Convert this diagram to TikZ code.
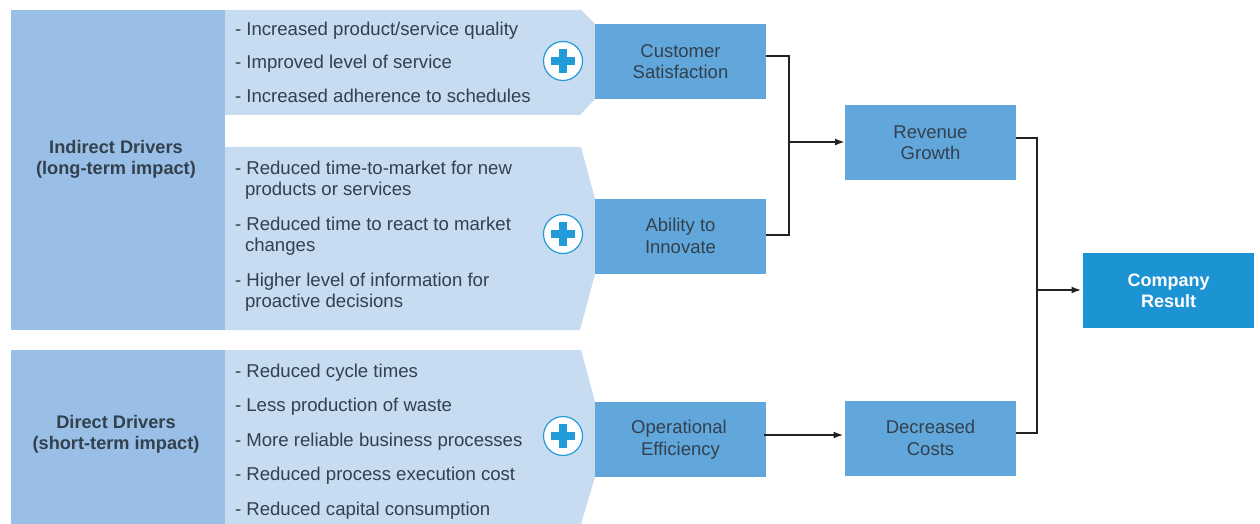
\documentclass[tikz,border=0pt]{standalone}
\usepackage{fontspec}
\usetikzlibrary{arrows.meta}
\setmainfont{Liberation Sans}
\definecolor{drv}{HTML}{9ABFE6}
\definecolor{pan}{HTML}{C7DCF1}
\definecolor{bx}{HTML}{61A7DB}
\definecolor{res}{HTML}{1C93D3}
\definecolor{txt}{HTML}{33404D}
\definecolor{plusc}{HTML}{229BD9}
\definecolor{conn}{HTML}{222222}
\begin{document}
\begin{tikzpicture}[x=1pt,y=-1pt,
  every node/.style={inner sep=0pt,outer sep=0pt},
  drvbox/.style={fill=drv},
  panel/.style={fill=pan},
  drvlabel/.style={align=center,font=\fontsize{18.2}{21}\selectfont\bfseries,text=txt},
  item/.style={anchor=west,align=left,font=\fontsize{18.6}{21.5}\selectfont,text=txt},
  stage/.style={minimum width=171pt,minimum height=75pt,fill=bx,align=center,text=txt,font=\fontsize{18.5}{21.5}\selectfont},
  result/.style={minimum width=171pt,minimum height=75pt,fill=res,align=center,text=white,font=\fontsize{18}{21}\selectfont\bfseries},
  link/.style={draw=conn,line width=1.8pt,line join=miter},
  arrowlink/.style={link,-{Latex[length=10pt,width=7pt]}},
  plusring/.style={circle,draw=plusc,fill=white,line width=1.2pt,minimum size=39pt},
  plusbar/.style={fill=plusc}]
\useasboundingbox (0,0) rectangle (1260,524);
\fill[white] (0,0) rectangle (1260,524);
% panels
\fill[drvbox] (11,10) rectangle (225,330);
\fill[drvbox] (11,350) rectangle (225,524);
\fill[panel] (225,10) -- (581,10) -- (595,24) -- (595,99) -- (580,115) -- (225,115) -- cycle;
\fill[panel] (225,147) -- (581,147) -- (595,199) -- (595,274) -- (580,330) -- (225,330) -- cycle;
\fill[panel] (225,350) -- (581,350) -- (595,402) -- (595,477) -- (581,524) -- (225,524) -- cycle;
% driver labels
\node[drvlabel] (ind) at (116,159) {Indirect Drivers\\(long-term impact)};
\node[drvlabel] (dir) at (116,434) {Direct Drivers\\(short-term impact)};
% items
\node[item] (a1) at (235,30.5) {- Increased product/service quality};
\node[item] (a2) at (235,63.5) {- Improved level of service};
\node[item] (a3) at (235,95.5) {- Increased adherence to schedules};
\node[item] (b1) at (235,180) {- Reduced time-to-market for new\\\hspace*{10pt}products or services};
\node[item] (b2) at (235,236) {- Reduced time to react to market\\\hspace*{10pt}changes};
\node[item] (b3) at (235,292) {- Higher level of information for\\\hspace*{10pt}proactive decisions};
\node[item] (c1) at (235,373) {- Reduced cycle times};
\node[item] (c2) at (235,407) {- Less production of waste};
\node[item] (c3) at (235,442) {- More reliable business processes};
\node[item] (c4) at (235,476) {- Reduced process execution cost};
\node[item] (c5) at (235,511) {- Reduced capital consumption};
% plus signs
\foreach \n/\y in {p1/61,p2/234,p3/436}{
  \node[plusring] (\n) at (563,\y) {};
  \fill[plusbar] ([xshift=-12pt,yshift=-4pt]\n.center) rectangle ([xshift=12pt,yshift=4pt]\n.center);
  \fill[plusbar] ([xshift=-4pt,yshift=-12pt]\n.center) rectangle ([xshift=4pt,yshift=12pt]\n.center);
}
% boxes
\node[stage] (cs) at (680.5,61.5) {Customer\\Satisfaction};
\node[stage] (ai) at (680.5,236.5) {\raisebox{1pt}{Ability to}\\\raisebox{1pt}{Innovate}};
\node[stage] (oe) at (680.5,439.5) {\hspace*{-3pt}Operational\\Efficiency};
\node[stage] (rg) at (930.5,142.5) {Revenue\\Growth};
\node[stage] (dc) at (930.5,438.5) {\raisebox{1.5pt}{Decreased}\\\raisebox{1.5pt}{Costs}};
\node[result] (cr) at (1168.5,290.5) {Company\\Result};
% connectors
\coordinate (j1) at (789,142);
\coordinate (j2) at (1037,290);
\coordinate (oeout) at (764,435);
\draw[link] ([yshift=5.2pt]cs.east) -| (j1);
\draw[link] ([yshift=1.5pt]ai.east) -| (j1);
\draw[arrowlink] (j1) -- (j1 -| rg.west);
\draw[arrowlink] (oeout) -- ([xshift=-1.5pt]oeout -| dc.west);
\draw[link] ([yshift=4.5pt]rg.east) -| (j2);
\draw[link] ([yshift=5.5pt]dc.east) -| (j2);
\draw[arrowlink] (j2) -- ([xshift=-1.5pt]j2 -| cr.west);
\end{tikzpicture}
\end{document}
